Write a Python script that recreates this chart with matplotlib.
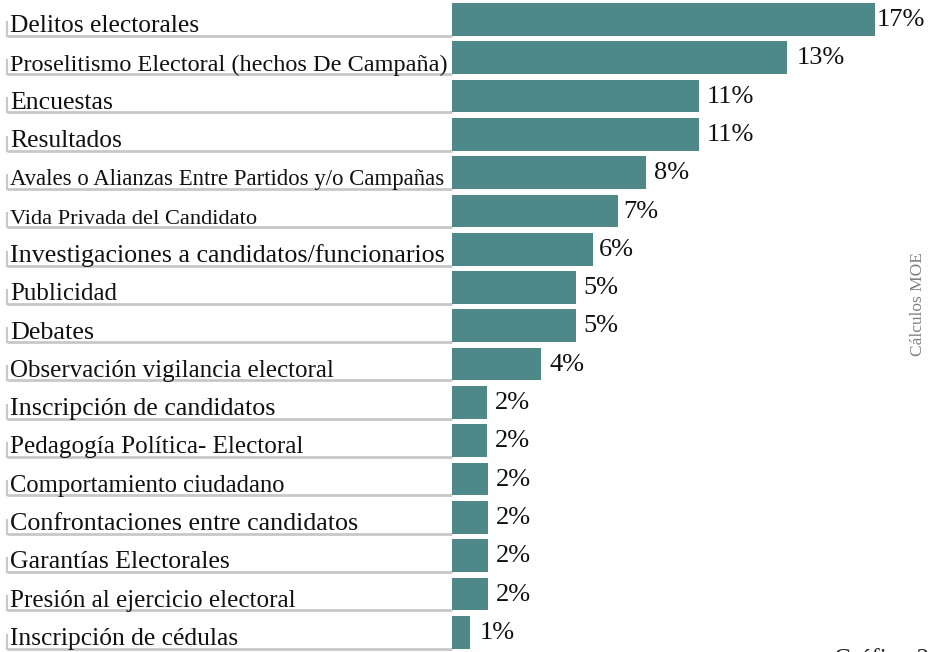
import numpy as np
import matplotlib.pyplot as plt
import matplotlib

matplotlib.rc('font', family='Liberation Serif')

categories = ['Delitos electorales',
              'Proselitismo Electoral (hechos De Campaña)',
              'Encuestas',
              'Resultados',
              'Avales o Alianzas Entre Partidos y/o Campañas',
              'Vida Privada del Candidato',
              'Investigaciones a candidatos/funcionarios',
              'Publicidad',
              'Debates',
              'Observación vigilancia electoral',
              'Inscripción de candidatos',
              'Pedagogía Política- Electoral',
              'Comportamiento ciudadano',
              'Confrontaciones entre candidatos',
              'Garantías Electorales',
              'Presión al ejercicio electoral',
              'Inscripción de cédulas']
# bar lengths
values = [17.0, 13.46, 9.93, 9.93, 7.80, 6.67, 5.67, 4.98, 4.98, 3.58,
          1.41, 1.41, 1.45, 1.45, 1.45, 1.45, 0.72]
pct_labels = ['17%', '13%', '11%', '11%', '8%', '7%', '6%', '5%', '5%', '4%',
              '2%', '2%', '2%', '2%', '2%', '2%', '1%']

# font size of each category label (style only)
label_sizes = [18.4, 17.5, 18.5, 18.4, 16.4, 16.1, 18.7, 18.0, 18.8, 18.0,
               18.7, 18.1, 17.7, 18.7, 18.5, 18.1, 18.4]
# gap in pixels between bar end and its % label
pct_gap = [2, 10, 8, 8, 8, 5, 6, 7, 7, 8, 8, 8, 8, 8, 8, 8, 10]

teal = '#4e8889'
grey = '#c8c8c8'

W, H = 933, 652
px = 24.88          # pixels per unit of value
x0 = 452            # pixel where bars start
pitch = 38.3        # pixels per row
y0 = 19.35          # pixel centre of first row

fig = plt.figure(figsize=(W / 100, H / 100), dpi=100)
ax = fig.add_axes([0, 0, 1, 1])
ax.set_xlim(-x0 / px, (W - x0) / px)
ax.set_ylim((H - y0) / pitch, -y0 / pitch)
ax.axis('off')

n = len(categories)
pos = np.arange(n)
h = 32.7 / pitch
ax.barh(pos, values, height=h, color=teal, zorder=2)

xl = (7 - x0) / px
xt = (10 - x0) / px
for i in range(n):
    yb = i + h / 2
    ax.plot([xl, 0], [yb, yb], color=grey, lw=2.0, solid_capstyle='butt', zorder=1)
    ax.plot([xl, xl], [yb, yb - 14 / pitch], color=grey, lw=1.5, zorder=1)
    ax.text(xt, yb - 3.5 / pitch, categories[i], fontsize=label_sizes[i],
            ha='left', va='baseline', color='#111111')
    ax.annotate(pct_labels[i], (values[i], i), xytext=(pct_gap[i] * 0.72, -0.5),
                textcoords='offset points', ha='left', va='center',
                fontsize=19, color='#111111')

fig.text(918 / W, 1 - 304 / H, 'Cálculos MOE', rotation=90, fontsize=12.5,
         color='#808080', ha='center', va='center')
fig.text(834 / W, 1 - 649 / H, 'Gráfico 2', fontsize=18, color='#222222',
         ha='left', va='top')

plt.savefig('out.png', dpi=100)
